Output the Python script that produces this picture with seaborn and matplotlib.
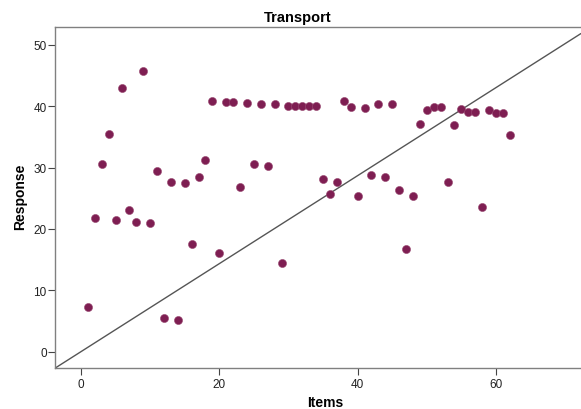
import numpy as np
import pandas as pd
import matplotlib
matplotlib.use("Agg")
import matplotlib.pyplot as plt
import seaborn as sns

# Data lest av figuren
items = list(range(1, 63))
response = [
    7.2, 21.8, 30.6, 35.4, 21.5, 42.9, 23.1, 21.2, 45.7, 20.9,
    29.5, 5.5, 27.7, 5.2, 27.5, 17.5, 28.5, 31.2, 40.8, 16.0,
    40.6, 40.6, 26.8, 40.5, 30.5, 40.4, 30.3, 40.35, 14.5, 40.1,
    40.1, 40.1, 40.1, 40.1, 28.1, 25.7, 27.7, 40.8, 39.9, 25.4,
    39.75, 28.8, 40.4, 28.4, 40.3, 26.3, 16.7, 25.4, 37.1, 39.4,
    39.9, 39.9, 27.6, 36.9, 39.6, 39.05, 39.05, 23.55, 39.4, 38.9,
    38.9, 35.35,
]
ref_slope = 0.717

df = pd.DataFrame({"Items": items, "Response": response})

sns.set_style("white")
plt.rcParams['font.family'] = ['Liberation Sans', 'DejaVu Sans']

fig = plt.figure(figsize=(5.81, 4.10), dpi=100)
ax = fig.add_axes([0.0947, 0.10, 0.9053, 0.8317])

sns.scatterplot(data=df, x="Items", y="Response", ax=ax, s=34,
                color="#7e1e52", edgecolor="#9a4a72", linewidth=0.4, zorder=3)

# Referanselinje
ax.axline((0, 0), slope=ref_slope, color="#555555", lw=1.0, zorder=2)

ax.set_xlim(-3.75, 72.3)
ax.set_ylim(-2.66, 52.9)
ax.set_xticks([0, 20, 40, 60])
ax.set_yticks([0, 10, 20, 30, 40, 50])

for side in ["top", "left", "bottom"]:
    ax.spines[side].set_color("#808080")
    ax.spines[side].set_linewidth(1.0)
ax.spines["right"].set_visible(False)

ax.tick_params(axis="both", which="both", direction="out", length=5, width=0.8,
               color="#444444", labelsize=8.5, labelcolor="#222222",
               bottom=True, left=True)
ax.tick_params(axis="y", pad=1)
ax.tick_params(axis="x", pad=2)

ax.set_xlabel("")
ax.set_ylabel("")
fig.text(325 / 581, 1 - 403 / 410, "Items", ha="center", va="center",
         fontsize=10, fontweight="bold", color="black")
fig.text(20 / 581, 1 - 197 / 410, "Response", ha="center", va="center",
         rotation=90, fontsize=10, fontweight="bold", color="black")
fig.text(298 / 581, 1 - 18 / 410, "Transport", ha="center", va="center",
         fontsize=10.5, fontweight="bold", color="black")

fig.savefig("out.png", dpi=100)
